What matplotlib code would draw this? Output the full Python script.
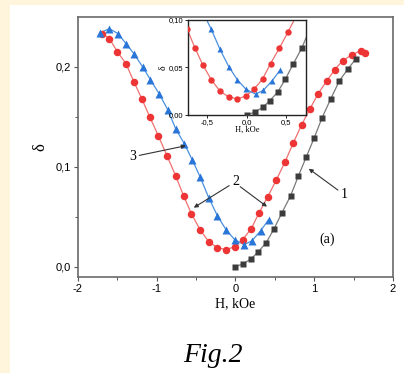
import matplotlib
matplotlib.use('Agg')
import matplotlib.pyplot as plt
from matplotlib.patches import Rectangle

# curve 2 (red circles)
h_red = [-1.69, -1.60, -1.50, -1.39, -1.29, -1.19, -1.09, -0.98, -0.87, -0.76, -0.66,
         -0.56, -0.45, -0.34, -0.23, -0.12, -0.01, 0.09, 0.20, 0.30, 0.41, 0.52, 0.63,
         0.735, 0.84, 0.946, 1.05, 1.16, 1.26, 1.36, 1.48, 1.59, 1.64]
d_red = [0.233, 0.228, 0.215, 0.203, 0.185, 0.168, 0.150, 0.131, 0.111, 0.091, 0.071,
         0.053, 0.037, 0.025, 0.019, 0.017, 0.020, 0.027, 0.038, 0.054, 0.070, 0.087, 0.105,
         0.124, 0.142, 0.158, 0.173, 0.186, 0.197, 0.206, 0.212, 0.216, 0.214]

# curve 3 (blue triangles)
h_blue = [-1.72, -1.60, -1.49, -1.39, -1.29, -1.18, -1.08, -0.97, -0.86, -0.76, -0.65,
          -0.55, -0.45, -0.34, -0.23, -0.12, -0.01, 0.11, 0.21, 0.32, 0.42]
d_blue = [0.234, 0.238, 0.233, 0.223, 0.213, 0.200, 0.187, 0.173, 0.157, 0.138, 0.123,
          0.107, 0.090, 0.069, 0.051, 0.037, 0.027, 0.022, 0.026, 0.036, 0.047]

# curve 1 (black squares)
h_black = [0.0, 0.10, 0.20, 0.29, 0.39, 0.49, 0.59, 0.70, 0.80, 0.90, 1.0, 1.10, 1.21,
           1.32, 1.43, 1.53]
d_black = [0.0, 0.003, 0.008, 0.015, 0.024, 0.038, 0.054, 0.071, 0.091, 0.110, 0.129,
           0.149, 0.168, 0.186, 0.198, 0.208]

main_xticks = [-2, -1, 0, 1, 2]
main_xlabels = ['-2', '-1', '0', '1', '2']
main_yticks = [0.0, 0.1, 0.2]
main_ylabels = ['0,0', '0,1', '0,2']
ins_xticks = [-0.5, 0.0, 0.5]
ins_xlabels = ['-0,5', '0,0', '0,5']
ins_yticks = [0.0, 0.05, 0.10]
ins_ylabels = ['0,00', '0,05', '0,10']

RED_M, RED_L = '#ee3535', '#f07070'
BLUE_M, BLUE_L = '#2a76d8', '#4a90e0'
BLK_M, BLK_L = '#3c3c3c', '#7a7a7a'
SERIF = ['Liberation Serif', 'DejaVu Serif']
SANS = ['Liberation Sans', 'DejaVu Sans']

fig = plt.figure(figsize=(4.04, 3.73), dpi=100)
fig.patch.set_facecolor('#fff4dc')
fig.patches.append(Rectangle((10 / 404, 0), 1, 1 - 5 / 373, transform=fig.transFigure,
                             facecolor='white', edgecolor='none', zorder=-10))


def draw_curves(ax, ms):
    ax.plot(h_red, d_red, '-', color=RED_L, lw=0.9, zorder=2)
    ax.plot(h_red, d_red, 'o', color=RED_M, ms=ms, mec='none', zorder=3)
    ax.plot(h_black, d_black, '-', color=BLK_L, lw=0.9, zorder=2)
    ax.plot(h_black, d_black, 's', color=BLK_M, ms=ms * 0.85, mec='none', zorder=3)
    ax.plot(h_blue, d_blue, '-', color=BLUE_L, lw=0.9, zorder=2)
    ax.plot(h_blue, d_blue, '^', color=BLUE_M, ms=ms * 1.05, mec='none', zorder=3)


ax = fig.add_axes([0.193, 0.2574, 0.7798, 0.697])
draw_curves(ax, 5.4)
ax.set_xlim(-2, 2)
ax.set_ylim(-0.0103, 0.2497)
ax.set_xticks(main_xticks)
ax.set_xticklabels(main_xlabels, family=SANS, fontsize=8)
ax.set_yticks(main_yticks)
ax.set_yticklabels(main_ylabels, family=SANS, fontsize=8)
ax.set_xticks([-1.5, -0.5, 0.5, 1.5], minor=True)
ax.set_yticks([0.05, 0.15], minor=True)
ax.tick_params(which='major', direction='out', length=3, width=0.8, color='#555555', pad=2)
ax.tick_params(which='minor', direction='out', length=2, width=0.7, color='#555555')
for s in ax.spines.values():
    s.set_color('#6a6a6a')
    s.set_linewidth(1.2)
ax.set_xlabel('H, kOe', family=SERIF, fontsize=10, labelpad=2)
ax.set_ylabel('δ', family=SERIF, fontsize=12, labelpad=5)

arrow = dict(arrowstyle='-|>', color='#333333', lw=0.8, mutation_scale=6, shrinkA=0, shrinkB=0)
ax.annotate('3', xy=(-0.63, 0.121), xytext=(-1.30, 0.110), family=SERIF, fontsize=10,
            ha='center', va='center', arrowprops=arrow)
ax.annotate('2', xy=(-0.53, 0.059), xytext=(0.0, 0.085), family=SERIF, fontsize=10,
            ha='center', va='center', arrowprops=arrow)
ax.annotate('', xy=(0.40, 0.060), xytext=(0.06, 0.080), arrowprops=arrow)
ax.annotate('1', xy=(0.93, 0.098), xytext=(1.38, 0.072), family=SERIF, fontsize=10,
            ha='center', va='center', arrowprops=arrow)
ax.text(1.16, 0.027, '(a)', family=SERIF, fontsize=10, ha='center', va='center')

ins = fig.add_axes([0.4646, 0.6917, 0.2928, 0.2547])
draw_curves(ins, 4.6)
ins.set_xlim(-0.75, 0.75)
ins.set_ylim(0, 0.10)
ins.set_xticks(ins_xticks)
ins.set_xticklabels(ins_xlabels, family=SANS, fontsize=5.5)
ins.set_yticks(ins_yticks)
ins.set_yticklabels(ins_ylabels, family=SANS, fontsize=5.5)
ins.tick_params(direction='out', length=2, width=0.6, pad=1)
for s in ins.spines.values():
    s.set_color('#222222')
    s.set_linewidth(1.0)
ins.set_xlabel('H, kOe', family=SERIF, fontsize=6, labelpad=0)
ins.set_ylabel('δ', family=SERIF, fontsize=7, labelpad=1)

fig.text(0.527, 1 - 355 / 373, 'Fig.2', family=SERIF, style='italic', fontsize=20,
         ha='center', va='center')

fig.savefig('out.png', dpi=100)
